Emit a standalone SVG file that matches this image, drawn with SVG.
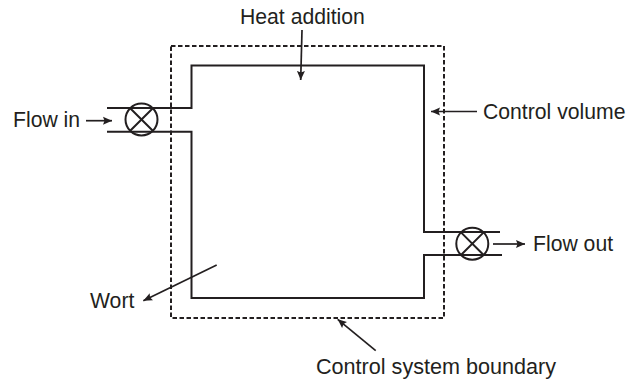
<svg xmlns="http://www.w3.org/2000/svg" width="626" height="379" viewBox="0 0 626 379">
<style>
text{font-family:"Liberation Sans",Arial,sans-serif;font-size:21.2px;fill:#231f20}
.l{fill:none;stroke:#231f20;stroke-width:2}
.a{fill:none;stroke:#231f20;stroke-width:1.7}
.d{fill:none;stroke:#231f20;stroke-width:2;stroke-dasharray:4.5 2.5}
.v{fill:none;stroke:#231f20;stroke-width:2}
</style>
<defs>
<marker id="h" markerUnits="userSpaceOnUse" markerWidth="10" markerHeight="9" refX="9" refY="4.5" orient="auto"><path d="M0 0.5L9 4.5L0 8.500L1.500 4.500Z" fill="#231f20"/></marker>
</defs>
<rect width="626" height="379" fill="#fff"/>
<g id="boundary"><rect class="d" x="171" y="46" width="273" height="272"/></g>
<g id="volume"><path class="l" d="M107 108H191.500V65.500H424V232H500M502 255H424V298H191.500V131.700H107"/></g>
<g id="valve-in"><circle class="v" cx="141.500" cy="119.500" r="16"/><path class="l" d="M130.200 108.200L152.800 130.800M152.800 108.200L130.200 130.800"/></g>
<g id="valve-out"><circle class="v" cx="472.300" cy="243.700" r="16"/><path class="l" d="M461 232.400L483.600 255M483.600 232.400L461 255"/></g>
<g id="connectors">
<path class="a" marker-end="url(#h)" d="M86 120.700H112"/>
<path class="a" marker-end="url(#h)" d="M493 244H525"/>
<path class="a" marker-end="url(#h)" d="M477 111.500H431"/>
<path class="a" marker-end="url(#h)" d="M302 30L300.700 80"/>
<path class="a" marker-end="url(#h)" d="M216.700 265L143.300 300.700"/>
<path class="a" marker-end="url(#h)" d="M375.700 350.700L337.700 319.300"/>
</g>
<g id="labels">
<text x="240" y="23.500">Heat addition</text>
<text x="13" y="126.500">Flow in</text>
<text x="483" y="118.500">Control volume</text>
<text x="533" y="250.500">Flow out</text>
<text x="90" y="308">Wort</text>
<text x="316" y="374" style="font-size:21.600px">Control system boundary</text>
</g>
</svg>
